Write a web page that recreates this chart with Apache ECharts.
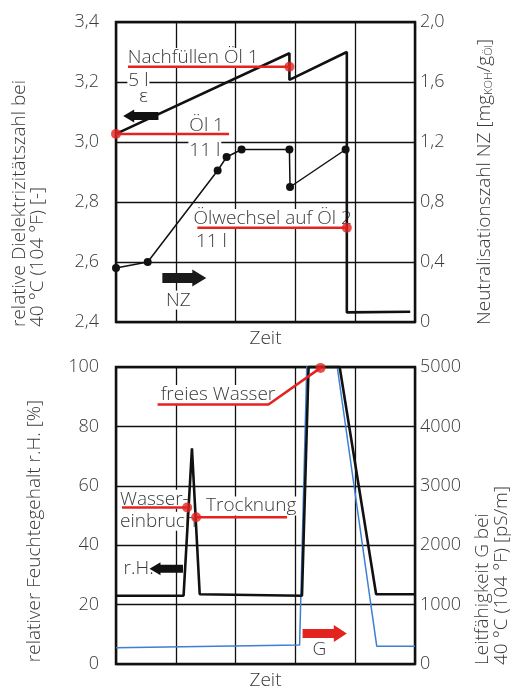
<!DOCTYPE html>
<html><head><meta charset="utf-8">
<script src="https://cdn.jsdelivr.net/npm/echarts@6/dist/echarts.min.js"></script>
<style>html,body{margin:0;padding:0;background:#fff;}#c{width:517px;height:691px;}</style>
</head><body><div id="c"></div>
<script>
// ---------- data ----------
const timeRange = [0, 5, 1];          // Zeit (no labels)
const epsAxis = [2.4, 3.4, 0.2];      // relative Dielektrizitätszahl
const nzAxis = [0, 2.0, 0.4];         // Neutralisationszahl
const rhAxis = [0, 100, 20];          // relativer Feuchtegehalt
const gAxis = [0, 5000, 1000];        // Leitfähigkeit

const epsX = [0, 2.9, 2.9, 3.86, 3.86, 4.92];
const epsY = [3.027, 3.296, 3.207, 3.30, 2.432, 2.434];
const nzX = [0, 0.53, 1.70, 1.85, 2.10, 2.90, 2.91, 3.84];
const nzY = [0.36, 0.40, 1.01, 1.10, 1.15, 1.15, 0.90, 1.15];

const rhX = [0, 1.13, 1.27, 1.40, 3.11, 3.22, 3.74, 4.35, 5.0];
const rhY = [23, 23, 72.6, 23.5, 23, 100, 100, 23.5, 23.5];
const gX = [0, 3.07, 3.19, 3.70, 4.36, 5.0];
const gY = [275, 318, 5000, 5000, 300, 300];

// annotation leader lines (data coords) and their dots
const leadNachfuellen = [[0.2, 3.251], [2.9, 3.251]];
const leadOel1 = [[0, 3.027], [1.89, 3.027]];
const leadOelwechsel = [[1.36, 2.714], [3.86, 2.714]];
const dotsTop = [[2.9, 3.251], [0, 3.027], [3.86, 2.714]];
const leadWasser = [[0.695, 87.4], [2.55, 87.4], [3.42, 99.7]];
const leadEinbruch = [[0.1, 52.7], [1.19, 52.7]];
const leadTrocknung = [[1.34, 49.4], [2.86, 49.4]];
const dotsBottom = [[3.42, 99.7], [1.19, 52.7], [1.34, 49.4]];

// annotation texts: [text, x, y]
const notesTop = [
  ['Nachfüllen Öl 1', 0.18, 3.282], ['5 l', 0.19, 3.205], ['ε', 0.37, 3.15],
  ['Öl 1', 1.21, 3.055], ['11 l', 1.21, 2.972],
  ['Ölwechsel auf Öl 2', 1.28, 2.745], ['11 l', 1.32, 2.667], ['NZ', 0.82, 2.473]
];
const notesBottom = [
  ['freies Wasser', 0.73, 90.7], ['Wasser-', 0.05, 55.5], ['einbruch', 0.05, 48.1],
  ['Trocknung', 1.49, 53.2], ['r.H.', 0.11, 32.1], ['G', 3.27, 4.9]
];
// arrows: [from, to]
const arrowEps = [[0.71, 3.087], [0.12, 3.087]];
const arrowNZ = [[0.775, 2.547], [1.51, 2.547]];
const arrowRH = [[1.12, 32.1], [0.56, 32.1]];
const arrowG = [[3.12, 10.3], [3.86, 10.3]];

// ---------- styles ----------
const F = '"Open Sans", "Noto Sans", sans-serif';
const TXT = '#3a3a3a';
const RED = '#e3231f';
const BLUE = '#3d7fd2';
const BLK = '#111';
const FS = 18;   // tick labels
const FT = 19;   // titles & notes
const FW = 300;

const zip = (xs, ys) => xs.map((x, i) => [x, ys[i]]);
const comma = v => v === 0 ? '0' : v.toFixed(1).replace('.', ',');

function xAx(i) {
  return {
    type: 'value', gridIndex: i, min: timeRange[0], max: timeRange[1], interval: timeRange[2],
    axisLabel: { show: false }, axisTick: { show: false }, axisLine: { show: false },
    splitLine: { show: true, lineStyle: { color: BLK, width: 1.3 } },
    name: 'Zeit', nameLocation: 'middle', nameGap: 7,
    nameTextStyle: { color: TXT, fontSize: FT, fontFamily: F, fontWeight: FW }
  };
}
function yAx(i, r, pos, fmt, split) {
  return {
    type: 'value', gridIndex: i, position: pos, min: r[0], max: r[1], interval: r[2],
    axisTick: { show: false }, axisLine: { show: false },
    splitLine: { show: split, lineStyle: { color: BLK, width: 1.3 } },
    axisLabel: { color: TXT, fontSize: FS, fontFamily: F, fontWeight: FW, margin: pos === 'left' ? 17 : 5, formatter: fmt }
  };
}
function lineS(data, xi, yi, color, w, extra) {
  return Object.assign({ type: 'line', xAxisIndex: xi, yAxisIndex: yi, data, symbol: 'none',
    clip: false, lineStyle: { color, width: w }, itemStyle: { color }, z: 3 }, extra || {});
}

const chart = echarts.init(document.getElementById('c'));
chart.setOption({
  animation: false,
  grid: [
    { left: 116, top: 22, width: 299, height: 300, show: true, borderColor: BLK, borderWidth: 2.5 },
    { left: 116, top: 367, width: 299, height: 299, show: true, borderColor: BLK, borderWidth: 2.5 }
  ],
  xAxis: [xAx(0), xAx(1)],
  yAxis: [
    yAx(0, epsAxis, 'left', comma, true),
    yAx(0, nzAxis, 'right', comma, false),
    yAx(1, rhAxis, 'left', v => String(v), true),
    yAx(1, gAxis, 'right', v => String(v), false)
  ],
  series: [
    lineS(zip(epsX, epsY), 0, 0, BLK, 2.6),
    lineS(zip(nzX, nzY), 0, 1, BLK, 1.5, { symbol: 'circle', symbolSize: 8, showAllSymbol: true }),
    lineS(zip(gX, gY), 1, 3, BLUE, 1.5),
    lineS(zip(rhX, rhY), 1, 2, BLK, 2.6),
    lineS(leadNachfuellen, 0, 0, RED, 2.5, { z: 4 }),
    lineS(leadOel1, 0, 0, RED, 2.5, { z: 4 }),
    lineS(leadOelwechsel, 0, 0, RED, 2.5, { z: 4 }),
    lineS(leadWasser, 1, 2, RED, 2.5, { z: 4 }),
    lineS(leadEinbruch, 1, 2, RED, 2.5, { z: 4 }),
    lineS(leadTrocknung, 1, 2, RED, 2.5, { z: 4 }),
    { type: 'scatter', xAxisIndex: 0, yAxisIndex: 0, data: dotsTop, symbolSize: 10, clip: false, itemStyle: { color: RED }, z: 5 },
    { type: 'scatter', xAxisIndex: 1, yAxisIndex: 2, data: dotsBottom, symbolSize: 10, clip: false, itemStyle: { color: RED }, z: 5 }
  ]
});

const px = (ax, p) => chart.convertToPixel({ xAxisIndex: ax[0], yAxisIndex: ax[1] }, p);
const FONT = FW + ' ' + FT + 'px ' + F;
const g = [];
function note(t, x, y, ax) {
  const [X, Y] = px(ax, [x, y]);
  g.push({ type: 'text', x: X, y: Y, z: 1,
    style: { text: t, font: FONT, fill: TXT, align: 'left', verticalAlign: 'middle',
      textAlign: 'left', textVerticalAlign: 'middle', backgroundColor: '#fff', padding: [0, 1] } });
}
notesTop.forEach(n => note(n[0], n[1], n[2], [0, 0]));
notesBottom.forEach(n => note(n[0], n[1], n[2], [1, 2]));

function arrow(a, ax, shaftH, headL, headH, color) {
  const [x1, y1] = px(ax, a[0]), [x2] = px(ax, a[1]);
  const d = Math.sign(x2 - x1), hx = x2 - d * headL;
  g.push({ type: 'polygon', z: 10, shape: { points: [
    [x1, y1 - shaftH / 2], [hx, y1 - shaftH / 2], [hx, y1 - headH / 2], [x2, y1],
    [hx, y1 + headH / 2], [hx, y1 + shaftH / 2], [x1, y1 + shaftH / 2]] }, style: { fill: color } });
}
arrow(arrowEps, [0, 0], 8, 11, 13, BLK);
arrow(arrowNZ, [0, 0], 10, 14, 17, '#1a1a1a');
arrow(arrowRH, [1, 2], 8, 11, 13, BLK);
arrow(arrowG, [1, 2], 9, 13, 17, RED);

function vtitle(t, x, y, align, rich) {
  g.push({ type: 'text', x, y, rotation: Math.PI / 2, z: 1,
    style: { text: t, font: FONT, fill: TXT, align, verticalAlign: 'middle',
      textAlign: align, textVerticalAlign: 'middle', rich: rich || undefined } });
}
vtitle('relative Dielektrizitätszahl bei', 20, 327, 'left');
vtitle('40 °C (104 °F) [-]', 38, 327, 'left');
vtitle('Neutralisationszahl NZ [mg{s|KOH}/g{s|Öl}]', 485, 325, 'left',
  { s: { fontSize: 11, fontWeight: FW, fontFamily: F, fill: TXT, verticalAlign: 'bottom' } });
vtitle('relativer Feuchtegehalt r.H. [%]', 35, 531, 'center');
vtitle('Leitfähigkeit G bei', 483, 665, 'left');
vtitle('40 °C (104 °F) [pS/m]', 502, 665, 'left');

chart.setOption({ graphic: g });
</script></body></html>
